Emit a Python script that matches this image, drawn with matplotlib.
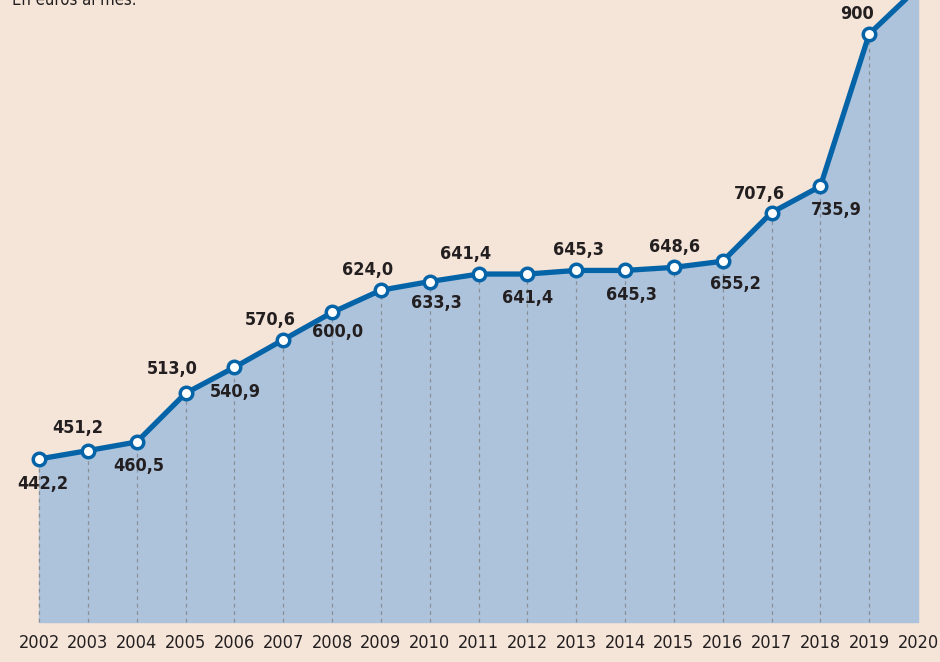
import matplotlib
matplotlib.use("Agg")
import matplotlib.pyplot as plt
import numpy as np

plt.rcParams['font.family'] = ['DejaVu Sans']
plt.rcParams['font.stretch'] = 'condensed'

years = [2002, 2003, 2004, 2005, 2006, 2007, 2008, 2009, 2010, 2011,
         2012, 2013, 2014, 2015, 2016, 2017, 2018, 2019, 2020]
values = [442.2, 451.2, 460.5, 513.0, 540.9, 570.6, 600.0, 624.0, 633.3, 641.4,
          641.4, 645.3, 645.3, 648.6, 655.2, 707.6, 735.9, 900, 950]
labels = ['442,2', '451,2', '460,5', '513,0', '540,9', '570,6', '600,0', '624,0', '633,3', '641,4',
          '641,4', '645,3', '645,3', '648,6', '655,2', '707,6', '735,9', '900', '950']
# label offsets from each point, in pixels (right, up)
offsets = [(4, -25), (-10, 23), (2, -24), (-13, 24), (1, -25), (-13, 20), (6, -20),
           (-13, 20), (7, -21), (-13, 20), (0, -24), (2, 20), (6, -25), (1, 20),
           (13, -23), (-12, 19), (16, -24), (-12, 20), (-12, 20)]

bg = '#f5e4d8'
blue = '#0564a8'
fill = '#adc3dc'
txt = '#231f20'
base = 266.6

fig = plt.figure(figsize=(9.4, 6.62), dpi=100, facecolor=bg)
ax = fig.add_axes([0, 0, 1, 1])
ax.set_facecolor(bg)
ax.set_xlim(2001.2, 2020.45)
ax.set_ylim(223.5, 936.6)
ax.axis('off')

ax.fill_between(years, base, values, color=fill, zorder=1)
ax.vlines(years[:-1], base, values[:-1], colors='#8a8f96', linestyles=(0, (3, 3)),
          linewidth=0.9, zorder=2)
ax.plot(years, values, color=blue, linewidth=3.8, zorder=3, solid_capstyle='round')
ax.plot(years, values, 'o', markersize=9, markerfacecolor='white',
        markeredgecolor=blue, markeredgewidth=2.5, zorder=4)

for x, v, lab, (dx, dy) in zip(years, values, labels, offsets):
    ax.annotate(lab, (x, v), xytext=(dx * 0.72, dy * 0.72), textcoords='offset points',
                ha='center', va='center', fontsize=13, fontweight='bold', color=txt)

for x in years:
    ax.text(x, 244, str(x), ha='center', va='center', fontsize=13, color=txt)

fig.text(12 / 940, 1.0, 'En euros al mes.', ha='left', va='center',
         fontsize=12, color=txt)

fig.savefig('out.png', dpi=100, facecolor=bg)
